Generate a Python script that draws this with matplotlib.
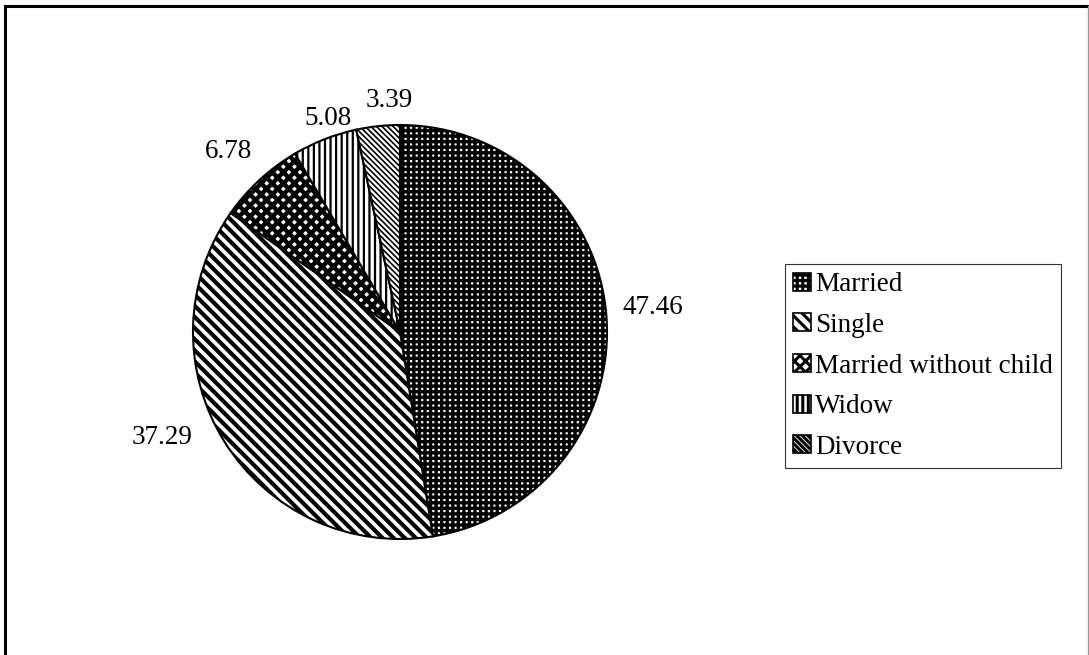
import matplotlib.pyplot as plt
from matplotlib.patches import Patch
from matplotlib.lines import Line2D

plt.rcParams['font.family'] = ['Liberation Serif', 'DejaVu Serif']
plt.rcParams['hatch.linewidth'] = 2.2

# marital status shares (%)
labels = ['Married', 'Single', 'Married without child', 'Widow', 'Divorce']
values = [47.46, 37.29, 6.78, 5.08, 3.39]
hatches = ['+++', '\\\\\\', 'xxx', '|||', '\\\\\\\\\\\\']
hatch_lw = [2.4, 3.0, 3.2, 1.6, 1.2]

# where each value label sits, in pie units (radius 1)
label_pos = [(1.22, 0.12), (-1.15, -0.51), (-0.83, 0.87), (-0.35, 1.03), (-0.05, 1.12)]

fig = plt.figure(figsize=(10.89, 6.55), dpi=100)

# outer border: heavy left/top, light right
fig.add_artist(Line2D([5/1089, 5/1089], [0, 1-6/655], color='black', lw=2.2, transform=fig.transFigure))
fig.add_artist(Line2D([5/1089, 1088/1089], [1-6/655, 1-6/655], color='black', lw=2.2, transform=fig.transFigure))
fig.add_artist(Line2D([1087.5/1089, 1087.5/1089], [0, 1-6/655], color='#999999', lw=1, transform=fig.transFigure))

ax = fig.add_axes([193/1089, (655-539)/655, 414/1089, 414/655])
wedges, _ = ax.pie(values, startangle=90, counterclock=False, radius=1,
                   wedgeprops=dict(facecolor='white', edgecolor='black', linewidth=1.5))
for w, h, lw in zip(wedges, hatches, hatch_lw):
    w.set_hatch(h)
    if hasattr(w, 'set_hatch_linewidth'):
        w.set_hatch_linewidth(lw)
ax.set_xlim(-1, 1)
ax.set_ylim(-1, 1)
ax.set_aspect('equal')
ax.axis('off')

for v, (x, y) in zip(values, label_pos):
    ax.text(x, y, f'{v:.2f}', ha='center', va='center', fontsize=19.5, clip_on=False)

handles = [Patch(facecolor='white', edgecolor='black', hatch=h, linewidth=1.2) for h in hatches]
leg = fig.legend(handles, labels, loc='upper left',
                 bbox_to_anchor=(785/1089, 1-264/655), fontsize=19.5,
                 frameon=True, fancybox=False, edgecolor='black',
                 handlelength=0.65, handleheight=0.65, handletextpad=0.15,
                 labelspacing=0.58, borderpad=0.3, borderaxespad=0)
leg.get_frame().set_linewidth(0.8)

fig.savefig('out.png', dpi=100)
